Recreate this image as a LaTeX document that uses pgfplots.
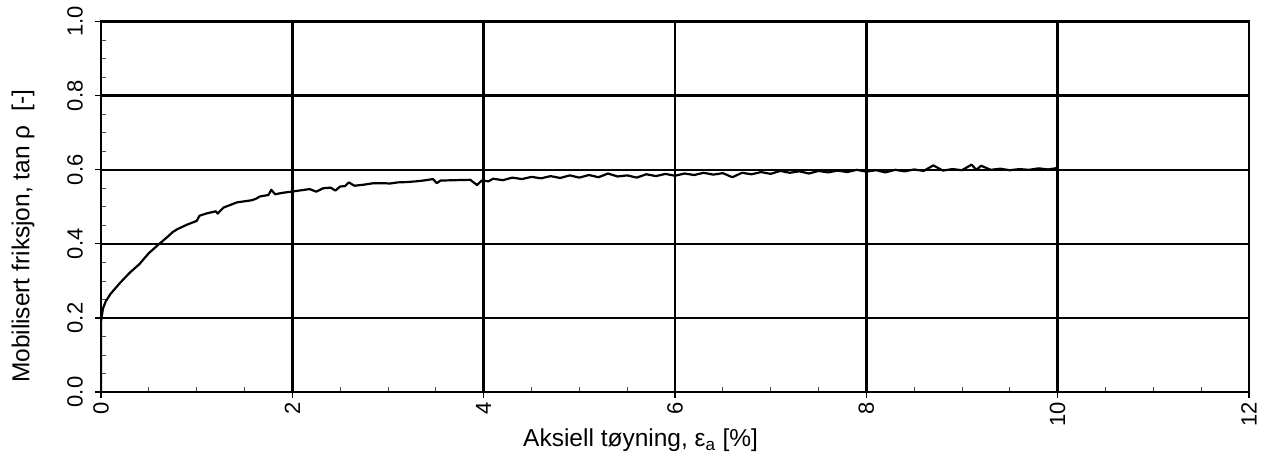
\documentclass[border=0pt]{standalone}
\usepackage{fontspec}
\setmainfont{Liberation Sans}
\usepackage{pgfplots}
\pgfplotsset{compat=1.18}

\pgfplotstableread{
x y
0 0
0 0.19
0.02 0.225
0.05 0.245
0.1 0.265
0.15 0.28
0.2 0.295
0.3 0.322
0.4 0.345
0.5 0.375
0.6 0.398
0.7 0.42
0.75 0.432
0.8 0.44
0.9 0.452
1.0 0.462
1.03 0.476
1.1 0.482
1.2 0.488
1.22 0.482
1.28 0.498
1.35 0.505
1.42 0.512
1.5 0.515
1.58 0.518
1.62 0.522
1.66 0.528
1.75 0.532
1.78 0.546
1.82 0.534
1.9 0.538
1.99 0.541
2.1 0.545
2.18 0.548
2.25 0.541
2.32 0.550
2.4 0.552
2.45 0.544
2.5 0.555
2.55 0.556
2.59 0.566
2.65 0.557
2.75 0.560
2.85 0.564
2.95 0.564
3.02 0.563
3.1 0.566
3.2 0.567
3.3 0.569
3.37 0.571
3.47 0.575
3.51 0.564
3.55 0.571
3.7 0.572
3.86 0.573
3.93 0.559
3.98 0.571
4.05 0.569
4.1 0.576
4.2 0.572
4.3 0.579
4.4 0.575
4.5 0.581
4.6 0.577
4.7 0.583
4.8 0.578
4.9 0.585
5.0 0.579
5.1 0.586
5.2 0.580
5.3 0.590
5.4 0.582
5.5 0.585
5.6 0.579
5.7 0.588
5.8 0.583
5.9 0.589
6.0 0.584
6.1 0.590
6.2 0.586
6.3 0.592
6.4 0.587
6.5 0.591
6.6 0.580
6.7 0.592
6.8 0.588
6.9 0.594
7.0 0.589
7.1 0.597
7.2 0.592
7.3 0.596
7.4 0.590
7.5 0.597
7.6 0.593
7.7 0.598
7.8 0.594
7.9 0.600
8.0 0.595
8.1 0.599
8.2 0.593
8.3 0.600
8.4 0.596
8.5 0.601
8.6 0.597
8.7 0.612
8.8 0.598
8.9 0.602
9.0 0.599
9.1 0.614
9.15 0.600
9.2 0.611
9.3 0.600
9.4 0.603
9.5 0.599
9.6 0.602
9.7 0.600
9.8 0.604
9.9 0.601
10.0 0.605
}\friction

\begin{document}
\begin{tikzpicture}
\begin{axis}[
  at={(0pt,0pt)}, anchor=south west,
  scale only axis,
  width=1148pt, height=370.3pt,
  xmin=0, xmax=12, ymin=0, ymax=1,
  xtick={0,2,...,12}, ytick={0,0.2,...,1.0},
  minor x tick num=3, minor y tick num=3,
  xtick pos=bottom, ytick pos=left,
  tick align=inside,
  major tick length=-6pt, minor tick length=5pt,
  major tick style={line width=1.2pt, black},
  minor tick style={line width=0.8pt, black!70},
  grid=major,
  major grid style={line width=2.6pt, black},
  axis line style={line width=2.6pt},
  /pgf/number format/.cd, fixed, fixed zerofill, precision=1, assume math mode=true,
  /pgfplots/.cd,
  xticklabel={\pgfmathprintnumber[fixed, precision=0]{\tick}},
  ticklabel style={font=\fontsize{22}{25}\selectfont},
  xticklabel style={rotate=90, anchor=east, inner sep=0pt, xshift=-10pt},
  yticklabel style={rotate=90, anchor=south, inner sep=0pt, yshift=18pt},
  xlabel={Aksiell tøyning, ε\textsubscript{a} [\%]},
  ylabel={Mobilisert friksjon, tan ρ\ \ [-]},
  label style={font=\fontsize{24.5}{28}\selectfont},
  xlabel style={at={([yshift=-48pt]axis description cs:0.47,0)}, anchor=center},
  ylabel style={at={([xshift=-78pt]axis description cs:0,0.42)}, anchor=center},
]
\addplot[black, line width=2.2pt, line join=round] table[x=x, y=y] {\friction};
\end{axis}
\pgfresetboundingbox
\path[use as bounding box] (-101pt,-64pt) rectangle (1182pt,392pt);
\end{tikzpicture}
\end{document}
